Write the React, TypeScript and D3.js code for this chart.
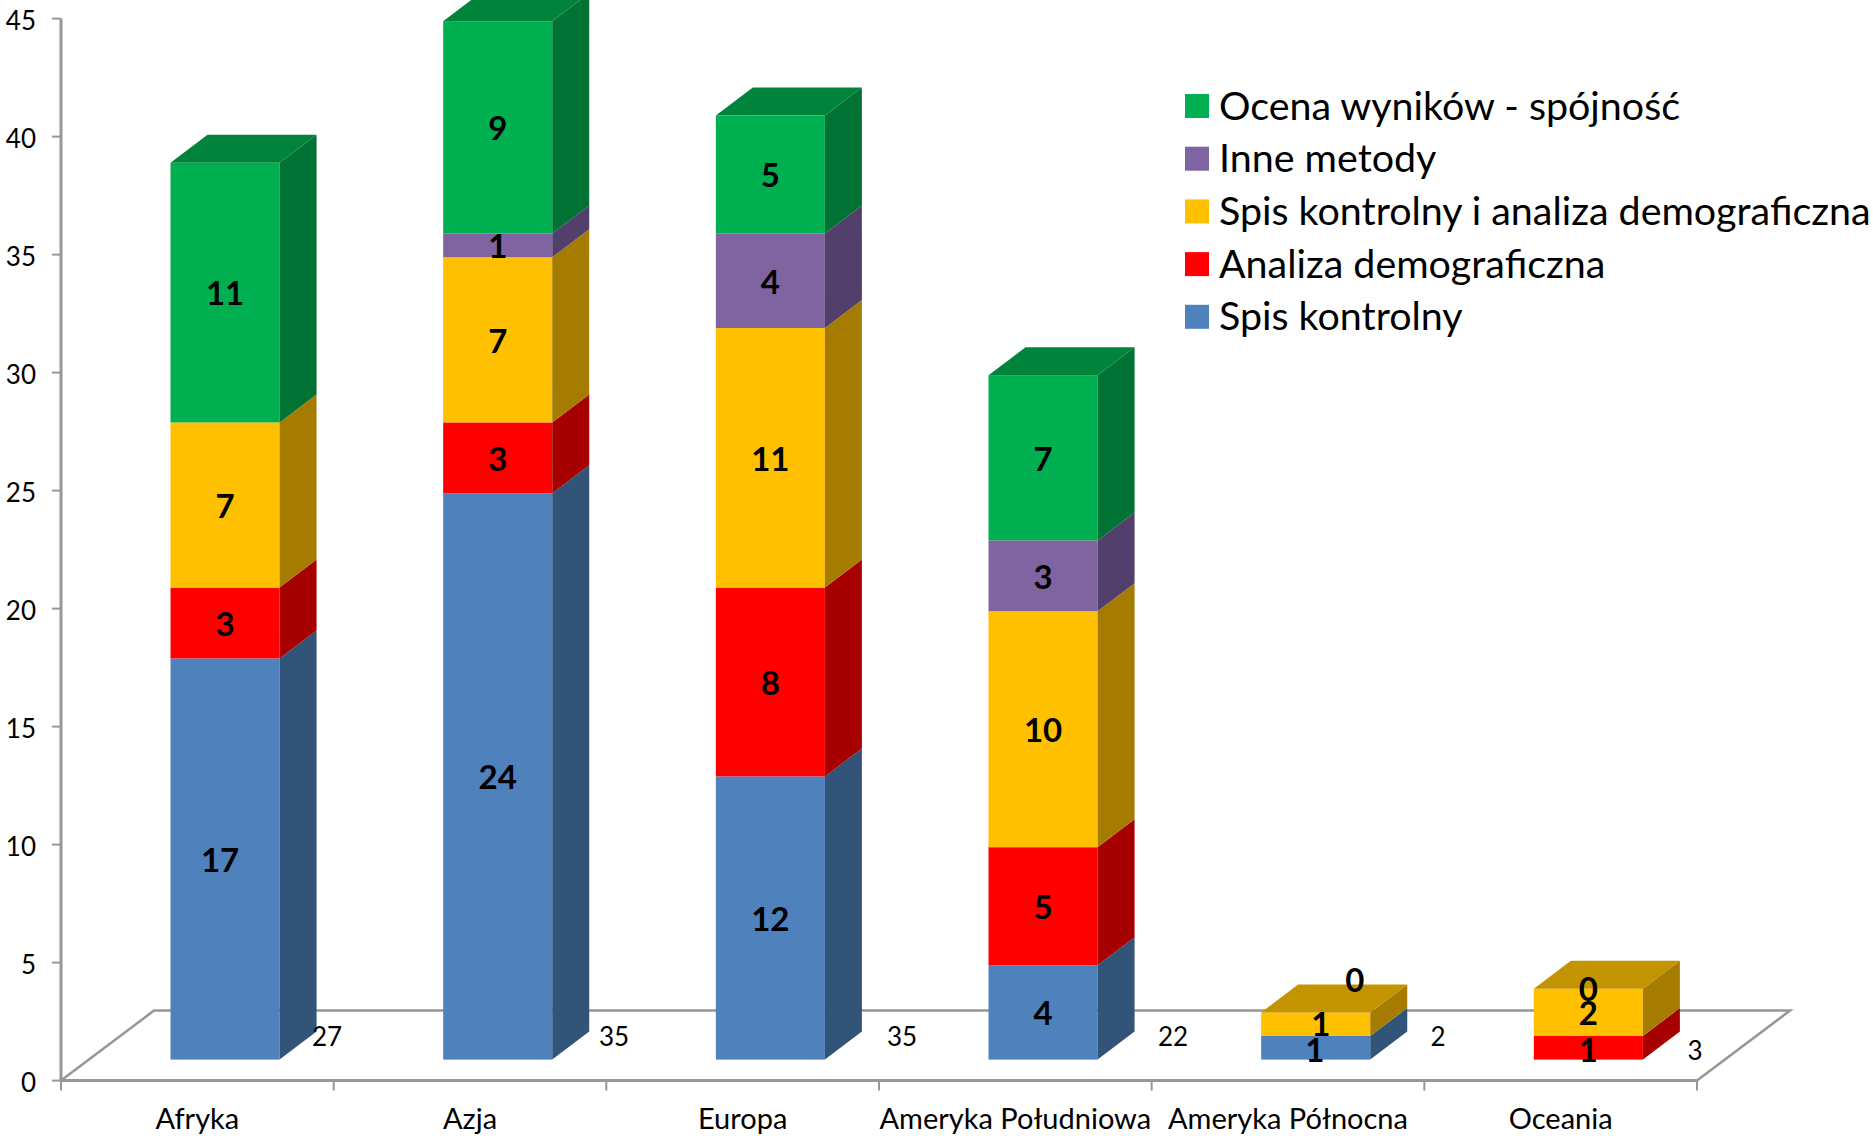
import React from "react";
import * as d3 from "d3";

const categories = ["Afryka", "Azja", "Europa", "Ameryka Południowa", "Ameryka Północna", "Oceania"];
const seriesNames = ["Spis kontrolny", "Analiza demograficzna", "Spis kontrolny i analiza demograficzna", "Inne metody", "Ocena wyników - spójność"];
const spisKontrolny = [17, 24, 12, 4, 1, null];
const analizaDemograficzna = [3, 3, 8, 5, null, 1];
const spisIAnaliza = [7, 7, 11, 10, 1, 2];
const inneMetody = [null, 1, 4, 3, null, null];
const ocenaWynikow = [11, 9, 5, 7, 0, 0];
const totals = [27, 35, 35, 22, 2, 3];
const yTicks = [0, 5, 10, 15, 20, 25, 30, 35, 40, 45];

const seriesValues: (number | null)[][] = [spisKontrolny, analizaDemograficzna, spisIAnaliza, inneMetody, ocenaWynikow];
const frontColors = ["#4F81BD", "#FF0000", "#FFC000", "#8064A2", "#00B050"];
const sideColors = ["#325478", "#A60000", "#A67C00", "#533F6B", "#007233"];
const topColors = ["#3B6290", "#C20000", "#C49300", "#624C7C", "#00843C"];

const W = 1873, H = 1136;
const FONT = "Lato, Carlito, Calibri, sans-serif";
const AXIS = "#979797";
const depthX = 37, depthY = 28;
const barShiftX = 27.7, barShiftY = 21;
const floorDX = 93, floorDY = 70;

// hand-placed label nudges of the original chart: [series, category, dx, dy]
const labelNudges: [number, number, number, number][] = [
  [0, 0, -5, 0], [0, 4, -1, 1], [2, 4, 5, -1], [4, 4, 39, -33], [1, 5, 0, 1], [4, 5, 0, -1],
];
const totalLabelX = [327, 614, 902, 1173, 1438, 1695];
const totalLabelY = [1037, 1037, 1037, 1037, 1037, 1051];

const y = d3.scaleLinear().domain([0, 45]).range([1080.6, 18.6]);
const xBand = d3.scaleBand<string>().domain(categories).range([61, 1697]).paddingInner(0.6).paddingOuter(0.3);
const xTick = d3.scaleLinear().domain([0, 6]).range([61, 1697]);

const rows = categories.map((c, i) => {
  const r: Record<string, number | string> = { c };
  seriesNames.forEach((s, k) => { r[s] = seriesValues[k][i] ?? 0; });
  return r;
});
const stacked = d3.stack<Record<string, number | string>>().keys(seriesNames)(rows as any);

const pts = (p: number[][]) => p.map((q) => q.join(",")).join(" ");

export default function App() {
  const bw = xBand.bandwidth();
  return (
    <svg width={W} height={H} viewBox={`0 0 ${W} ${H}`} style={{ position: "absolute", left: 0, top: 0, background: "#fff" }} fontFamily={FONT}>
      {/* floor */}
      <g fill="none" stroke={AXIS}>
        <polyline points={pts([[xTick(0), y(0)], [xTick(0) + floorDX, y(0) - floorDY], [xTick(6) + floorDX, y(0) - floorDY], [xTick(6), y(0)]])} strokeWidth={2.5} />
        <line x1={xTick(0)} x2={xTick(6)} y1={y(0)} y2={y(0)} strokeWidth={3} />
        <line x1={xTick(0)} x2={xTick(0)} y1={y(45)} y2={y(0)} strokeWidth={3} />
        {yTicks.map((t) => <line key={t} x1={52} x2={xTick(0)} y1={y(t)} y2={y(t)} strokeWidth={2} />)}
        {d3.range(7).map((i) => <line key={i} x1={xTick(i)} x2={xTick(i)} y1={y(0)} y2={y(0) + 10} strokeWidth={2} />)}
      </g>
      {/* y labels */}
      {yTicks.map((t) => (
        <text key={t} x={36} y={y(t) + 2} dy="0.35em" textAnchor="end" fontSize={26} fill="#000">{t}</text>
      ))}
      {/* bars */}
      {categories.map((c, i) => {
        const x0 = xBand(c)! + barShiftX;
        const x1 = x0 + bw;
        let topIdx = -1;
        seriesNames.forEach((_, k) => { if ((seriesValues[k][i] ?? 0) > 0) topIdx = k; });
        return (
          <g key={c}>
            {stacked.map((s, k) => {
              const v = seriesValues[k][i] ?? 0;
              if (v <= 0) return null;
              const yb = y(s[i][0]) - barShiftY;
              const yt = y(s[i][1]) - barShiftY;
              return (
                <g key={k}>
                  <rect x={x0} y={yt} width={bw} height={yb - yt} fill={frontColors[k]} />
                  <polygon points={pts([[x1, yb], [x1 + depthX, yb - depthY], [x1 + depthX, yt - depthY], [x1, yt]])} fill={sideColors[k]} />
                  {k === topIdx && (
                    <polygon points={pts([[x0, yt], [x0 + depthX, yt - depthY], [x1 + depthX, yt - depthY], [x1, yt]])} fill={topColors[k]} />
                  )}
                </g>
              );
            })}
          </g>
        );
      })}
      {/* value labels */}
      {categories.map((c, i) => {
        const x0 = xBand(c)! + barShiftX;
        return stacked.map((s, k) => {
          const v = seriesValues[k][i];
          if (v === null) return null;
          if (v === 0 && k !== 4) return null;
          const n = labelNudges.find((q) => q[0] === k && q[1] === i);
          const cx = x0 + bw / 2 + (n ? n[2] : 0);
          const cy = (y(s[i][0]) + y(s[i][1])) / 2 - barShiftY + (n ? n[3] : 0) + 1;
          return (
            <text key={k} x={cx} y={cy} dy="0.36em" textAnchor="middle" fontSize={33} fontWeight={700} fill="#000">{v}</text>
          );
        });
      })}
      {/* totals */}
      {totals.map((t, i) => (
        <text key={i} x={totalLabelX[i]} y={totalLabelY[i]} dy="0.36em" textAnchor="middle" fontSize={26} fill="#000">{t}</text>
      ))}
      {/* category labels */}
      {categories.map((c, i) => (
        <text key={c} x={(xTick(i) + xTick(i + 1)) / 2} y={1118.5} dy="0.36em" textAnchor="middle" fontSize={29} fill="#000">{c}</text>
      ))}
      {/* legend */}
      {d3.range(4, -1, -1).map((k, row) => (
        <g key={k}>
          <rect x={1185} y={94 + row * 52.7} width={24} height={24} fill={frontColors[k]} />
          <text x={1219} y={105.5 + row * 52.7} dy="0.36em" fontSize={39.4} fill="#000">{seriesNames[k]}</text>
        </g>
      ))}
    </svg>
  );
}
